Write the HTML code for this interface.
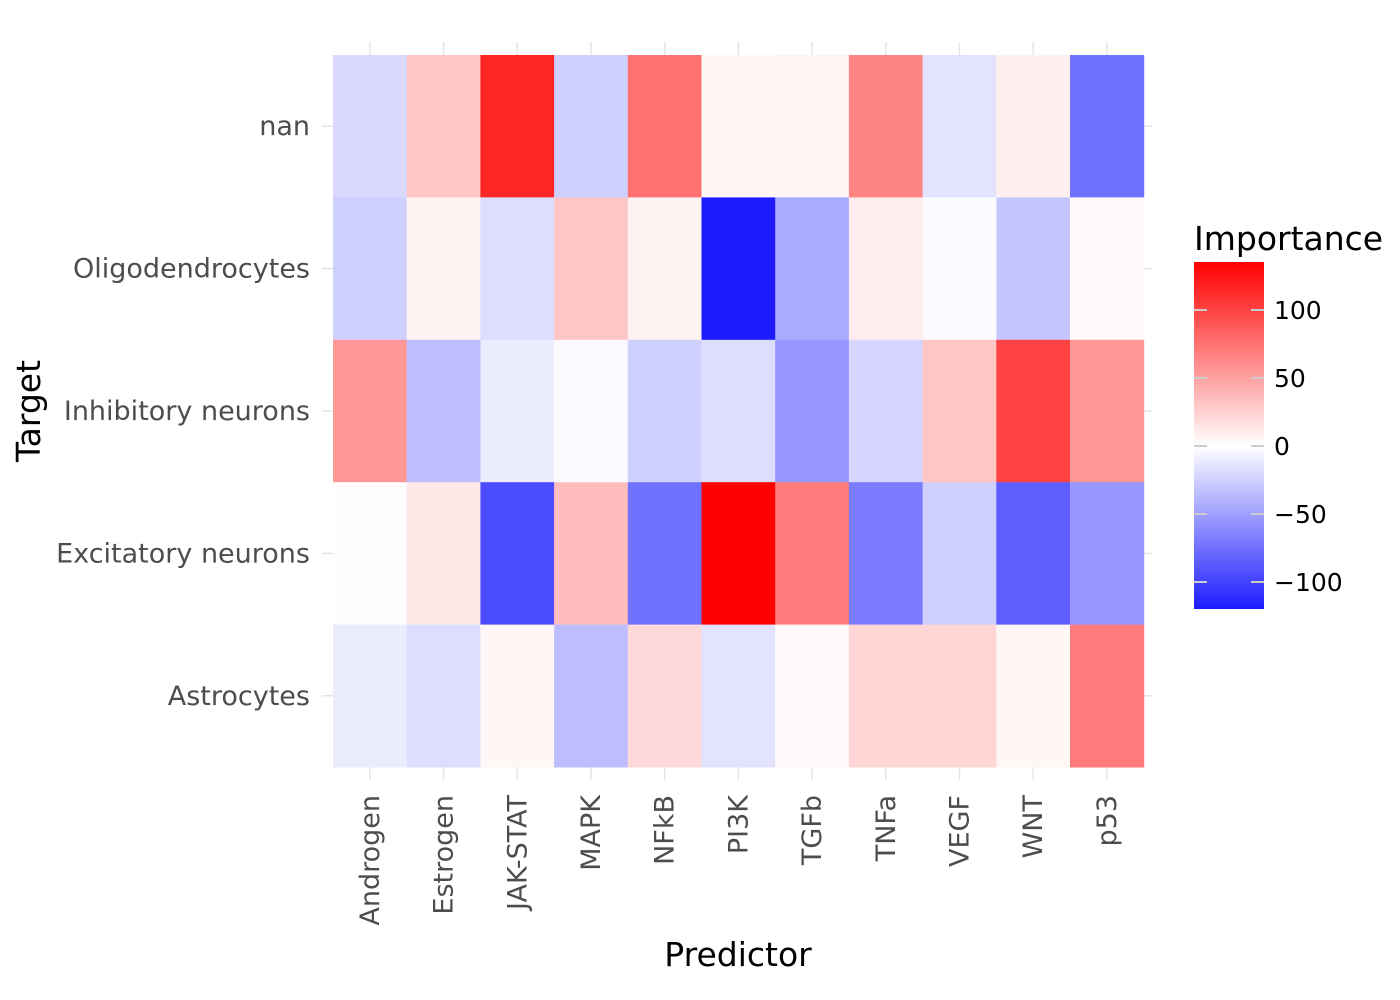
<!DOCTYPE html>
<html><head><meta charset="utf-8"><style>
html,body{margin:0;padding:0;background:#fff;}
svg{display:block;font-family:"DejaVu Sans","Liberation Sans",sans-serif;}
</style></head><body>
<svg id="chart" width="1400" height="1000" viewBox="0 0 1400 1000" xmlns="http://www.w3.org/2000/svg">
<defs>
<linearGradient id="cbar" x1="0" y1="1" x2="0" y2="0">
<stop offset="0" stop-color="rgb(28,28,255)"/>
<stop offset="0.47" stop-color="#ffffff"/>
<stop offset="1" stop-color="#ff0000"/>
</linearGradient>
</defs>
<g id="grid"></g>
<g id="tiles"></g>
<g id="xlabels"></g>
<g id="ylabels"></g>
<text x="738" y="966" font-size="33" text-anchor="middle" fill="#000">Predictor</text>
<text x="0" y="0" font-size="33" text-anchor="middle" fill="#000" transform="translate(40,411) rotate(-90)">Target</text>
<g>
<text x="1194" y="250" font-size="33" fill="#000">Importance</text>
<rect x="1194" y="262" width="70" height="347" fill="url(#cbar)"/>
<g id="legendticks"></g>
</g>
</svg>
<script>
const predictors=["Androgen","Estrogen","JAK-STAT","MAPK","NFkB","PI3K","TGFb","TNFa","VEGF","WNT","p53"];
const targets=["nan","Oligodendrocytes","Inhibitory neurons","Excitatory neurons","Astrocytes"];
const rowNan=[-20,30,115,-25,75,5,6,65,-15,8,-75];
const rowOligo=[-25,7,-18,30,7,-120,-45,10,-2,-30,3];
const rowInhib=[55,-35,-10,-2,-25,-18,-55,-22,30,100,55];
const rowExcit=[1,12,-95,35,-75,135,70,-70,-25,-85,-55];
const rowAstro=[-10,-18,5,-35,20,-15,3,22,22,5,70];
const legendTicks=[100,50,0,-50,-100];
const values=[rowNan,rowOligo,rowInhib,rowExcit,rowAstro];
const NS="http://www.w3.org/2000/svg";
const x0=333,cw=73.7,y0=55,rh=142.4;
const xc=i=>x0+cw*(i+0.5), yc=j=>y0+rh*(j+0.5);
const maxAbs=135;
function color(v){let t=Math.min(1,Math.abs(v)/maxAbs);let c=Math.round(255*(1-t));return v>=0?`rgb(255,${c},${c})`:`rgb(${c},${c},255)`;}
const legY=v=>446-v*1.36;
function mk(tag,attrs,parent){const e=document.createElementNS(NS,tag);for(const k in attrs)e.setAttribute(k,attrs[k]);parent.appendChild(e);return e;}
const grid=document.getElementById('grid');
predictors.forEach((p,i)=>{const l=mk('line',{x1:xc(i),x2:xc(i),y1:42,y2:780,stroke:'#e5e5e5','stroke-width':1.5},grid);

});
targets.forEach((t,j)=>{const l=mk('line',{x1:322,x2:1152,y1:yc(j),y2:yc(j),stroke:'#e5e5e5','stroke-width':1.5},grid);

});
const tiles=document.getElementById('tiles');
values.forEach((row,j)=>row.forEach((v,i)=>{const r=mk('rect',{x:x0+cw*i,y:y0+rh*j,width:cw+0.5,height:rh+0.5,fill:color(v)},tiles);

}));
const xl=document.getElementById('xlabels');
predictors.forEach((p,i)=>{const t=mk('text',{x:0,y:0,'font-size':27,fill:'#4d4d4d','text-anchor':'end',transform:`translate(${xc(i)+9},795) rotate(-90)`},xl);t.textContent=p;

});
const yl=document.getElementById('ylabels');
targets.forEach((p,j)=>{const t=mk('text',{x:310,y:yc(j)+9,'font-size':27,fill:'#4d4d4d','text-anchor':'end'},yl);t.textContent=p;

});
const lt=document.getElementById('legendticks');
legendTicks.forEach(v=>{const y=legY(v);
const a=mk('line',{x1:1194,x2:1207,y1:y,y2:y,stroke:'#cccccc','stroke-width':2},lt);


const b=mk('line',{x1:1251,x2:1264,y1:y,y2:y,stroke:'#cccccc','stroke-width':2},lt);


const t=mk('text',{x:1274,y:y+9,'font-size':25,fill:'#000'},lt);t.textContent=v<0?'\u2212'+Math.abs(v):String(v);

});
</script>
</body></html>
